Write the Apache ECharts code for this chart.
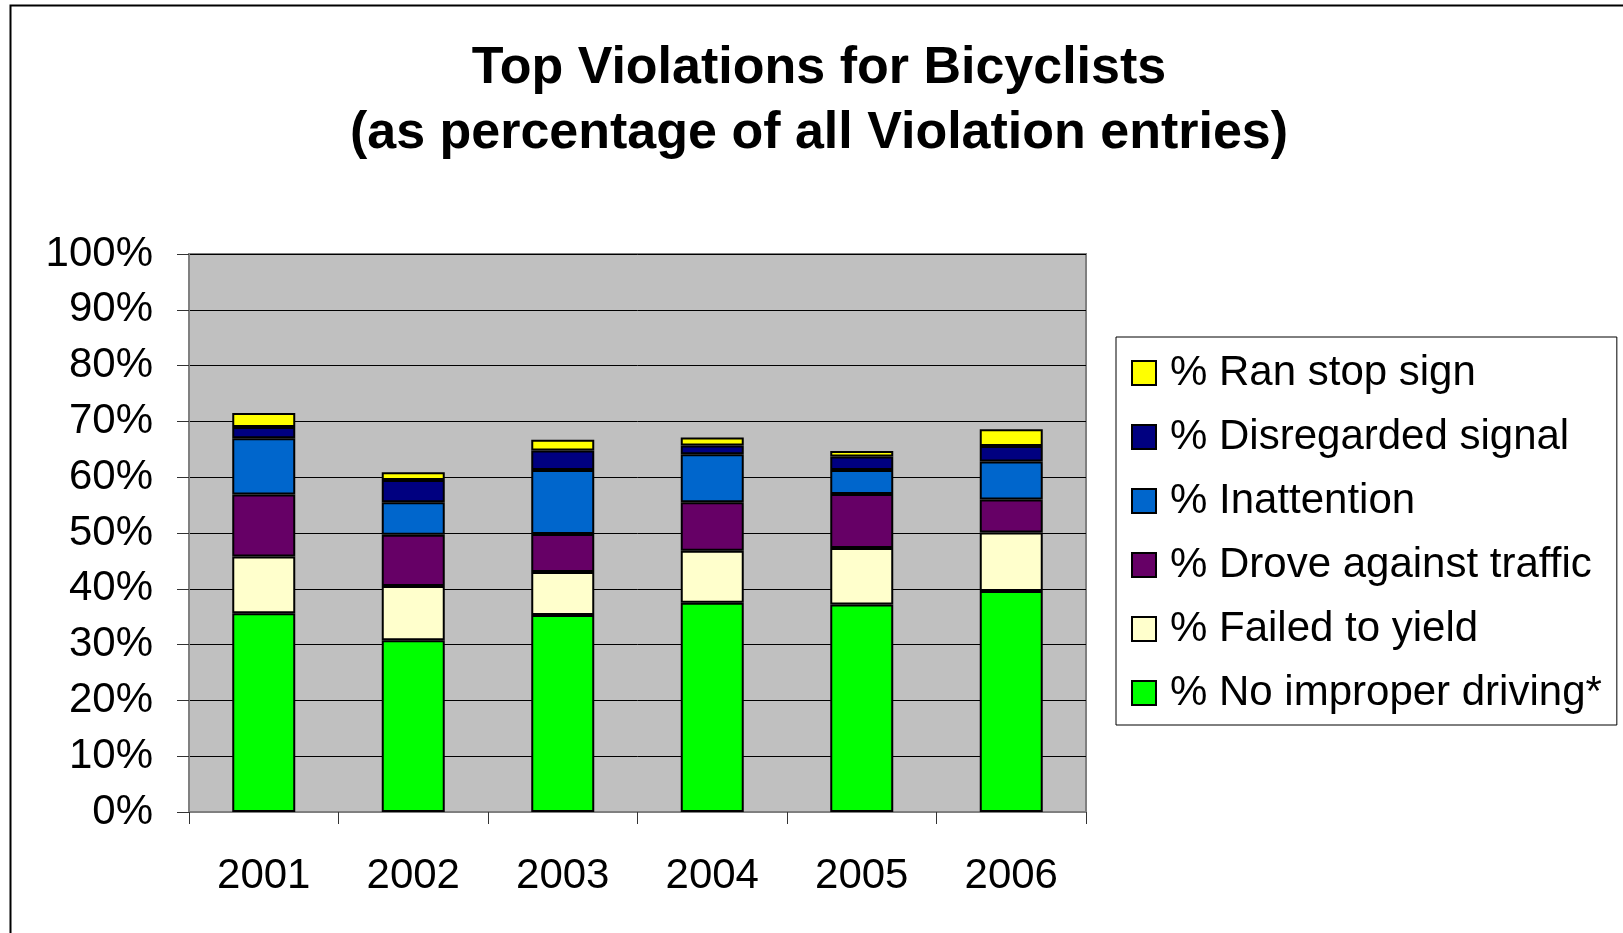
<!DOCTYPE html>
<html>
<head>
<meta charset="utf-8">
<script src="https://cdn.jsdelivr.net/npm/echarts@6/dist/echarts.min.js"></script>
<style>
html,body{margin:0;padding:0;background:#fff;}
#chart{width:1623px;height:933px;}
</style>
</head>
<body>
<div id="chart"></div>
<script>
const years = ['2001','2002','2003','2004','2005','2006'];
const noImproper = [35.6, 30.8, 35.3, 37.5, 37.2, 39.6];
const failedYield = [10.2, 9.7, 7.7, 9.3, 10.1, 10.5];
const droveAgainst = [11.1, 9.2, 6.8, 8.7, 9.7, 5.9];
const inattention = [10.1, 5.8, 11.5, 8.6, 4.3, 6.8];
const disregarded = [2.0, 4.0, 3.5, 1.6, 2.4, 2.8];
const ranStop = [2.5, 1.4, 1.9, 1.4, 1.0, 3.0];
const yTicks = [0,10,20,30,40,50,60,70,80,90,100];

const seriesDefs = [
  {name:'% No improper driving*', data:noImproper, color:'#00FF00'},
  {name:'% Failed to yield', data:failedYield, color:'#FFFFCC'},
  {name:'% Drove against traffic', data:droveAgainst, color:'#660066'},
  {name:'% Inattention', data:inattention, color:'#0066CC'},
  {name:'% Disregarded signal', data:disregarded, color:'#000080'},
  {name:'% Ran stop sign', data:ranStop, color:'#FFFF00'}
];

const FONT = '"Liberation Sans", Arial, sans-serif';
const chart = echarts.init(document.getElementById('chart'), null, {renderer:'canvas'});
chart.setOption({
  animation:false,
  backgroundColor:'#fff',
  textStyle:{fontFamily:FONT, color:'#000'},
  graphic:[{
    type:'rect', left:8, top:3, shape:{width:1700, height:1000},
    style:{fill:'none', stroke:'#000', lineWidth:2}, silent:true, z:-10
  }],
  title:{
    text:'Top Violations for Bicyclists\n(as percentage of all Violation entries)',
    left:819, textAlign:'center', top:36, padding:0,
    textStyle:{fontFamily:FONT, fontSize:52, fontWeight:'bold', color:'#000', lineHeight:65}
  },
  legend:{
    orient:'vertical',
    left:1116, top:337,
    padding:[15,15,11,15],
    borderColor:'#000', borderWidth:1,
    itemWidth:24, itemHeight:24, itemGap:22,
    icon:'rect',
    data:seriesDefs.map(s=>s.name).reverse(),
    textStyle:{fontFamily:FONT, fontSize:42, color:'#000', padding:[0,0,0,9]}
  },
  grid:{
    left:189, top:254, width:897, height:558,
    show:true, backgroundColor:'#C0C0C0', borderColor:'#808080', borderWidth:2
  },
  xAxis:{
    type:'category', data:years,
    axisLine:{lineStyle:{color:'#808080', width:2}},
    axisTick:{show:true, length:12, lineStyle:{color:'#333'}},
    axisLabel:{fontFamily:FONT, fontSize:42, color:'#000', margin:43}
  },
  yAxis:{
    type:'value', min:0, max:100, interval:10,
    axisLine:{show:true, lineStyle:{color:'#808080', width:2}},
    axisTick:{show:true, length:12, inside:false, lineStyle:{color:'#333'}},
    axisLabel:{fontFamily:FONT, fontSize:42, color:'#000', margin:36,
      formatter:v=> yTicks.includes(v) ? v+'%' : ''},
    splitLine:{show:true, lineStyle:{color:'#000', width:1}}
  },
  series: seriesDefs.map(s=>({
    name:s.name, type:'bar', stack:'total', data:s.data, barWidth:63,
    itemStyle:{color:s.color, borderColor:'#000', borderWidth:2}
  }))
});
</script>
</body>
</html>
